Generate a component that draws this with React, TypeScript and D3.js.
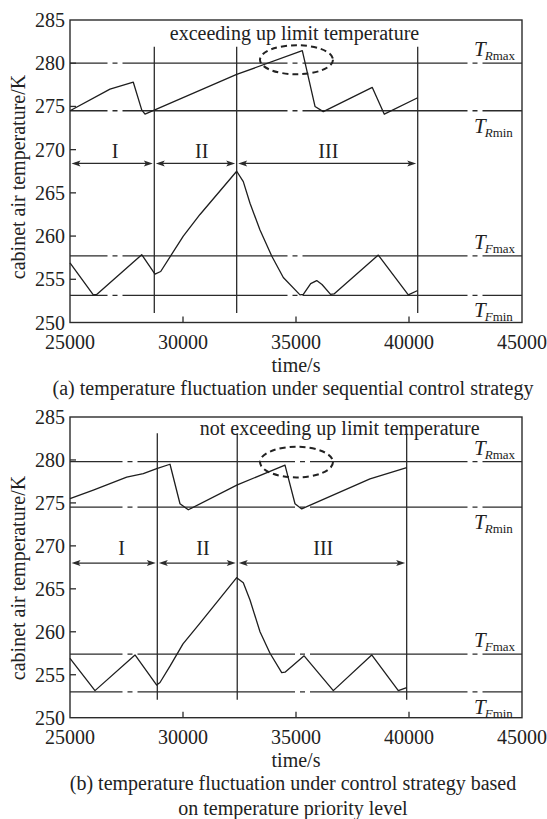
import React from "react";
import * as d3 from "d3";

const W = 547;
const H = 819;

const timeTicks = [25000, 30000, 35000, 40000, 45000];
const tempTicks = [250, 255, 260, 265, 270, 275, 280, 285];

// Panel (a): sequential control strategy
const aRoomTime = [25000, 26770, 27801, 28173, 28319, 32376, 35279, 35841, 36208, 38376, 38907, 40385];
const aRoomTemp = [274.5, 277.0, 277.8, 274.6, 274.1, 278.7, 281.45, 275.0, 274.4, 277.2, 274.1, 276.0];
const aFreezerTime = [25000, 26031, 26181, 28173, 28761, 29013, 30013, 30752, 32376, 32668, 32965, 33407, 33925, 34438, 35177, 35323, 35650, 35916, 36150, 36530, 36682, 38642, 39969, 40385];
const aFreezerTemp = [256.9, 253.2, 253.25, 257.85, 255.6, 255.9, 260.0, 262.5, 267.5, 266.3, 263.8, 260.7, 257.7, 255.2, 253.2, 253.25, 254.5, 254.85, 254.4, 253.25, 253.3, 257.8, 253.2, 253.7];
const aLimits = [280, 274.5, 257.7, 253.15]; // TRmax, TRmin, TFmax, TFmin
const aStages = [28730, 32375, 40385];
const aStageLabelTime = [26991, 30828, 36430];

// Panel (b): temperature priority level strategy
const bRoomTime = [25000, 26031, 27509, 28243, 28836, 29425, 29867, 30235, 32402, 34513, 34956, 35252, 38274, 39898];
const bRoomTemp = [275.5, 276.5, 278.0, 278.4, 279.0, 279.5, 274.9, 274.2, 277.1, 279.4, 274.9, 274.3, 277.8, 279.1];
const bFreezerTime = [25000, 26106, 27876, 28836, 28982, 29425, 30000, 30753, 32376, 32668, 32965, 33407, 33850, 34368, 34514, 35360, 36651, 38350, 39527, 39899];
const bFreezerTemp = [256.9, 253.15, 257.3, 253.8, 254.1, 256.0, 258.6, 261.0, 266.3, 265.7, 263.7, 260.0, 257.5, 255.25, 255.3, 257.2, 253.15, 257.3, 253.15, 253.5];
const bLimits = [279.8, 274.5, 257.4, 253.0];
const bStages = [28863, 32400, 39897];
const bStageLabelTime = [27288, 30885, 36208];

const stageNames = ["I", "II", "III"];
const limitNames = [["R", "max"], ["R", "min"], ["F", "max"], ["F", "min"]];

const FONT = "'Liberation Serif', 'Times New Roman', serif";
const INK = "#2b2b2b";

type PanelProps = {
  top: number;
  bottom: number;
  roomT: number[];
  roomV: number[];
  frzT: number[];
  frzV: number[];
  limits: number[];
  stages: number[];
  stageLabelT: number[];
  stageTop: number;
  stageBottom: number;
  arrowTemp: number;
  labelTemp: number;
  note: string;
  noteT: number;
  noteV: number;
  ellT: number;
  ellV: number;
  ellRy: number;
  dash: string;
  dashOffset: number;
  captions: string[];
  yLabelCenter: number;
};

function Panel(p: PanelProps) {
  const x = d3.scaleLinear().domain([25000, 45000]).range([70, 522]);
  const y = d3.scaleLinear().domain([250, 285]).range([p.bottom, p.top]);
  const line = d3
    .line<[number, number]>()
    .x((d) => x(d[0]))
    .y((d) => y(d[1]));
  const room = line(p.roomT.map((t, i) => [t, p.roomV[i]]) as [number, number][]) || "";
  const frz = line(p.frzT.map((t, i) => [t, p.frzV[i]]) as [number, number][]) || "";

  const bounds = [x.range()[0], ...p.stages.map((s) => x(s))];
  const ay = y(p.arrowTemp);

  return (
    <g>
      {/* frame */}
      <rect x={70} y={p.top} width={452} height={p.bottom - p.top} fill="none" stroke={INK} strokeWidth={1.4} />
      {/* ticks */}
      {timeTicks.slice(1, -1).map((t) => (
        <line key={"xt" + t} x1={x(t)} x2={x(t)} y1={p.bottom} y2={p.bottom - 6} stroke={INK} strokeWidth={1.3} />
      ))}
      {tempTicks.slice(1, -1).map((v) => (
        <line key={"yt" + v} x1={70} x2={76} y1={y(v)} y2={y(v)} stroke={INK} strokeWidth={1.3} />
      ))}
      {timeTicks.map((t) => (
        <text key={"xl" + t} x={x(t)} y={p.bottom + 19} fontSize={20} textAnchor="middle" dominantBaseline="central" fontFamily={FONT} fill="#222">
          {t}
        </text>
      ))}
      {tempTicks.map((v) => (
        <text key={"yl" + v} x={65} y={y(v)} fontSize={20} textAnchor="end" dominantBaseline="central" fontFamily={FONT} fill="#222">
          {v}
        </text>
      ))}
      <text x={296} y={p.bottom + 42} fontSize={20} textAnchor="middle" dominantBaseline="central" fontFamily={FONT} fill="#222">
        time/s
      </text>
      <text
        transform={`translate(18,${p.yLabelCenter}) rotate(-90)`}
        fontSize={20}
        textAnchor="middle"
        dominantBaseline="central"
        fontFamily={FONT}
        fill="#222"
      >
        cabinet air temperature/K
      </text>
      {p.captions.map((c, i) => (
        <text key={"cap" + i} x={293} y={p.bottom + 65 + i * 25} fontSize={20} textAnchor="middle" dominantBaseline="central" fontFamily={FONT} fill="#222">
          {c}
        </text>
      ))}

      {/* limit lines */}
      {p.limits.map((v, i) => (
        <g key={"lim" + i}>
          <line
            x1={70}
            x2={522}
            y1={y(v)}
            y2={y(v)}
            stroke={INK}
            strokeWidth={1.3}
            strokeDasharray={p.dash}
            strokeDashoffset={p.dashOffset}
          />
          <text
            x={474}
            y={i % 2 === 0 ? y(v) - 7 : y(v) + 22}
            fontFamily={FONT}
            fill="#222"
          >
            <tspan fontSize={21} fontStyle="italic">T</tspan>
            <tspan fontSize={13} fontStyle="italic" dy={4} dx={-1}>{limitNames[i][0]}</tspan>
            <tspan fontSize={13}>{limitNames[i][1]}</tspan>
          </text>
        </g>
      ))}

      {/* stage separators */}
      {p.stages.map((s, i) => (
        <line key={"st" + i} x1={x(s)} x2={x(s)} y1={y(p.stageTop)} y2={y(p.stageBottom)} stroke={INK} strokeWidth={1.3} />
      ))}

      {/* stage arrows */}
      {stageNames.map((n, i) => {
        const x1 = bounds[i] + 1.5;
        const x2 = bounds[i + 1] - 1.5;
        return (
          <g key={"arr" + i}>
            <line x1={x1 + 4} x2={x2 - 4} y1={ay} y2={ay} stroke={INK} strokeWidth={1.2} />
            <polygon points={`${x1},${ay} ${x1 + 9},${ay - 3} ${x1 + 7},${ay} ${x1 + 9},${ay + 3}`} fill={INK} />
            <polygon points={`${x2},${ay} ${x2 - 9},${ay - 3} ${x2 - 7},${ay} ${x2 - 9},${ay + 3}`} fill={INK} />
            <text x={x(p.stageLabelT[i])} y={y(p.labelTemp)} fontSize={20} textAnchor="middle" dominantBaseline="central" fontFamily={FONT} fill="#222">
              {n}
            </text>
          </g>
        );
      })}

      {/* curves */}
      <path d={room} fill="none" stroke="#1e1e1e" strokeWidth={1.3} strokeLinejoin="round" />
      <path d={frz} fill="none" stroke="#1e1e1e" strokeWidth={1.3} strokeLinejoin="round" />

      {/* annotation */}
      <ellipse cx={x(p.ellT)} cy={y(p.ellV)} rx={36.5} ry={p.ellRy} fill="none" stroke="#222" strokeWidth={2} strokeDasharray="6 4" />
      <text x={x(p.noteT)} y={y(p.noteV)} fontSize={20} textAnchor="middle" dominantBaseline="central" fontFamily={FONT} fill="#222">
        {p.note}
      </text>
    </g>
  );
}

export default function App() {
  return (
    <svg
      width={W}
      height={H}
      viewBox={`0 0 ${W} ${H}`}
      style={{ position: "absolute", left: 0, top: 0, background: "#fff" }}
    >
      <rect width={W} height={H} fill="#fff" />
      <Panel
        top={20}
        bottom={322.5}
        roomT={aRoomTime}
        roomV={aRoomTemp}
        frzT={aFreezerTime}
        frzV={aFreezerTemp}
        limits={aLimits}
        stages={aStages}
        stageLabelT={aStageLabelTime}
        stageTop={281.9}
        stageBottom={251.1}
        arrowTemp={268.4}
        labelTemp={269.8}
        note="exceeding up limit temperature"
        noteT={34934}
        noteV={283.5}
        ellT={35022}
        ellV={280.4}
        ellRy={14.5}
        dash="165 5 5 5"
        dashOffset={127.5}
        captions={["(a) temperature fluctuation under sequential control strategy"]}
        yLabelCenter={177}
      />
      <Panel
        top={417}
        bottom={717.7}
        roomT={bRoomTime}
        roomV={bRoomTemp}
        frzT={bFreezerTime}
        frzV={bFreezerTemp}
        limits={bLimits}
        stages={bStages}
        stageLabelT={bStageLabelTime}
        stageTop={283.1}
        stageBottom={252.1}
        arrowTemp={268.0}
        labelTemp={269.7}
        note="not exceeding up limit temperature"
        noteT={36933}
        noteV={283.7}
        ellT={35022}
        ellV={279.75}
        ellRy={15.3}
        dash="157.5 5 5 5"
        dashOffset={105}
        captions={[
          "(b) temperature fluctuation under control strategy based",
          "on temperature priority level",
        ]}
        yLabelCenter={578}
      />
    </svg>
  );
}
